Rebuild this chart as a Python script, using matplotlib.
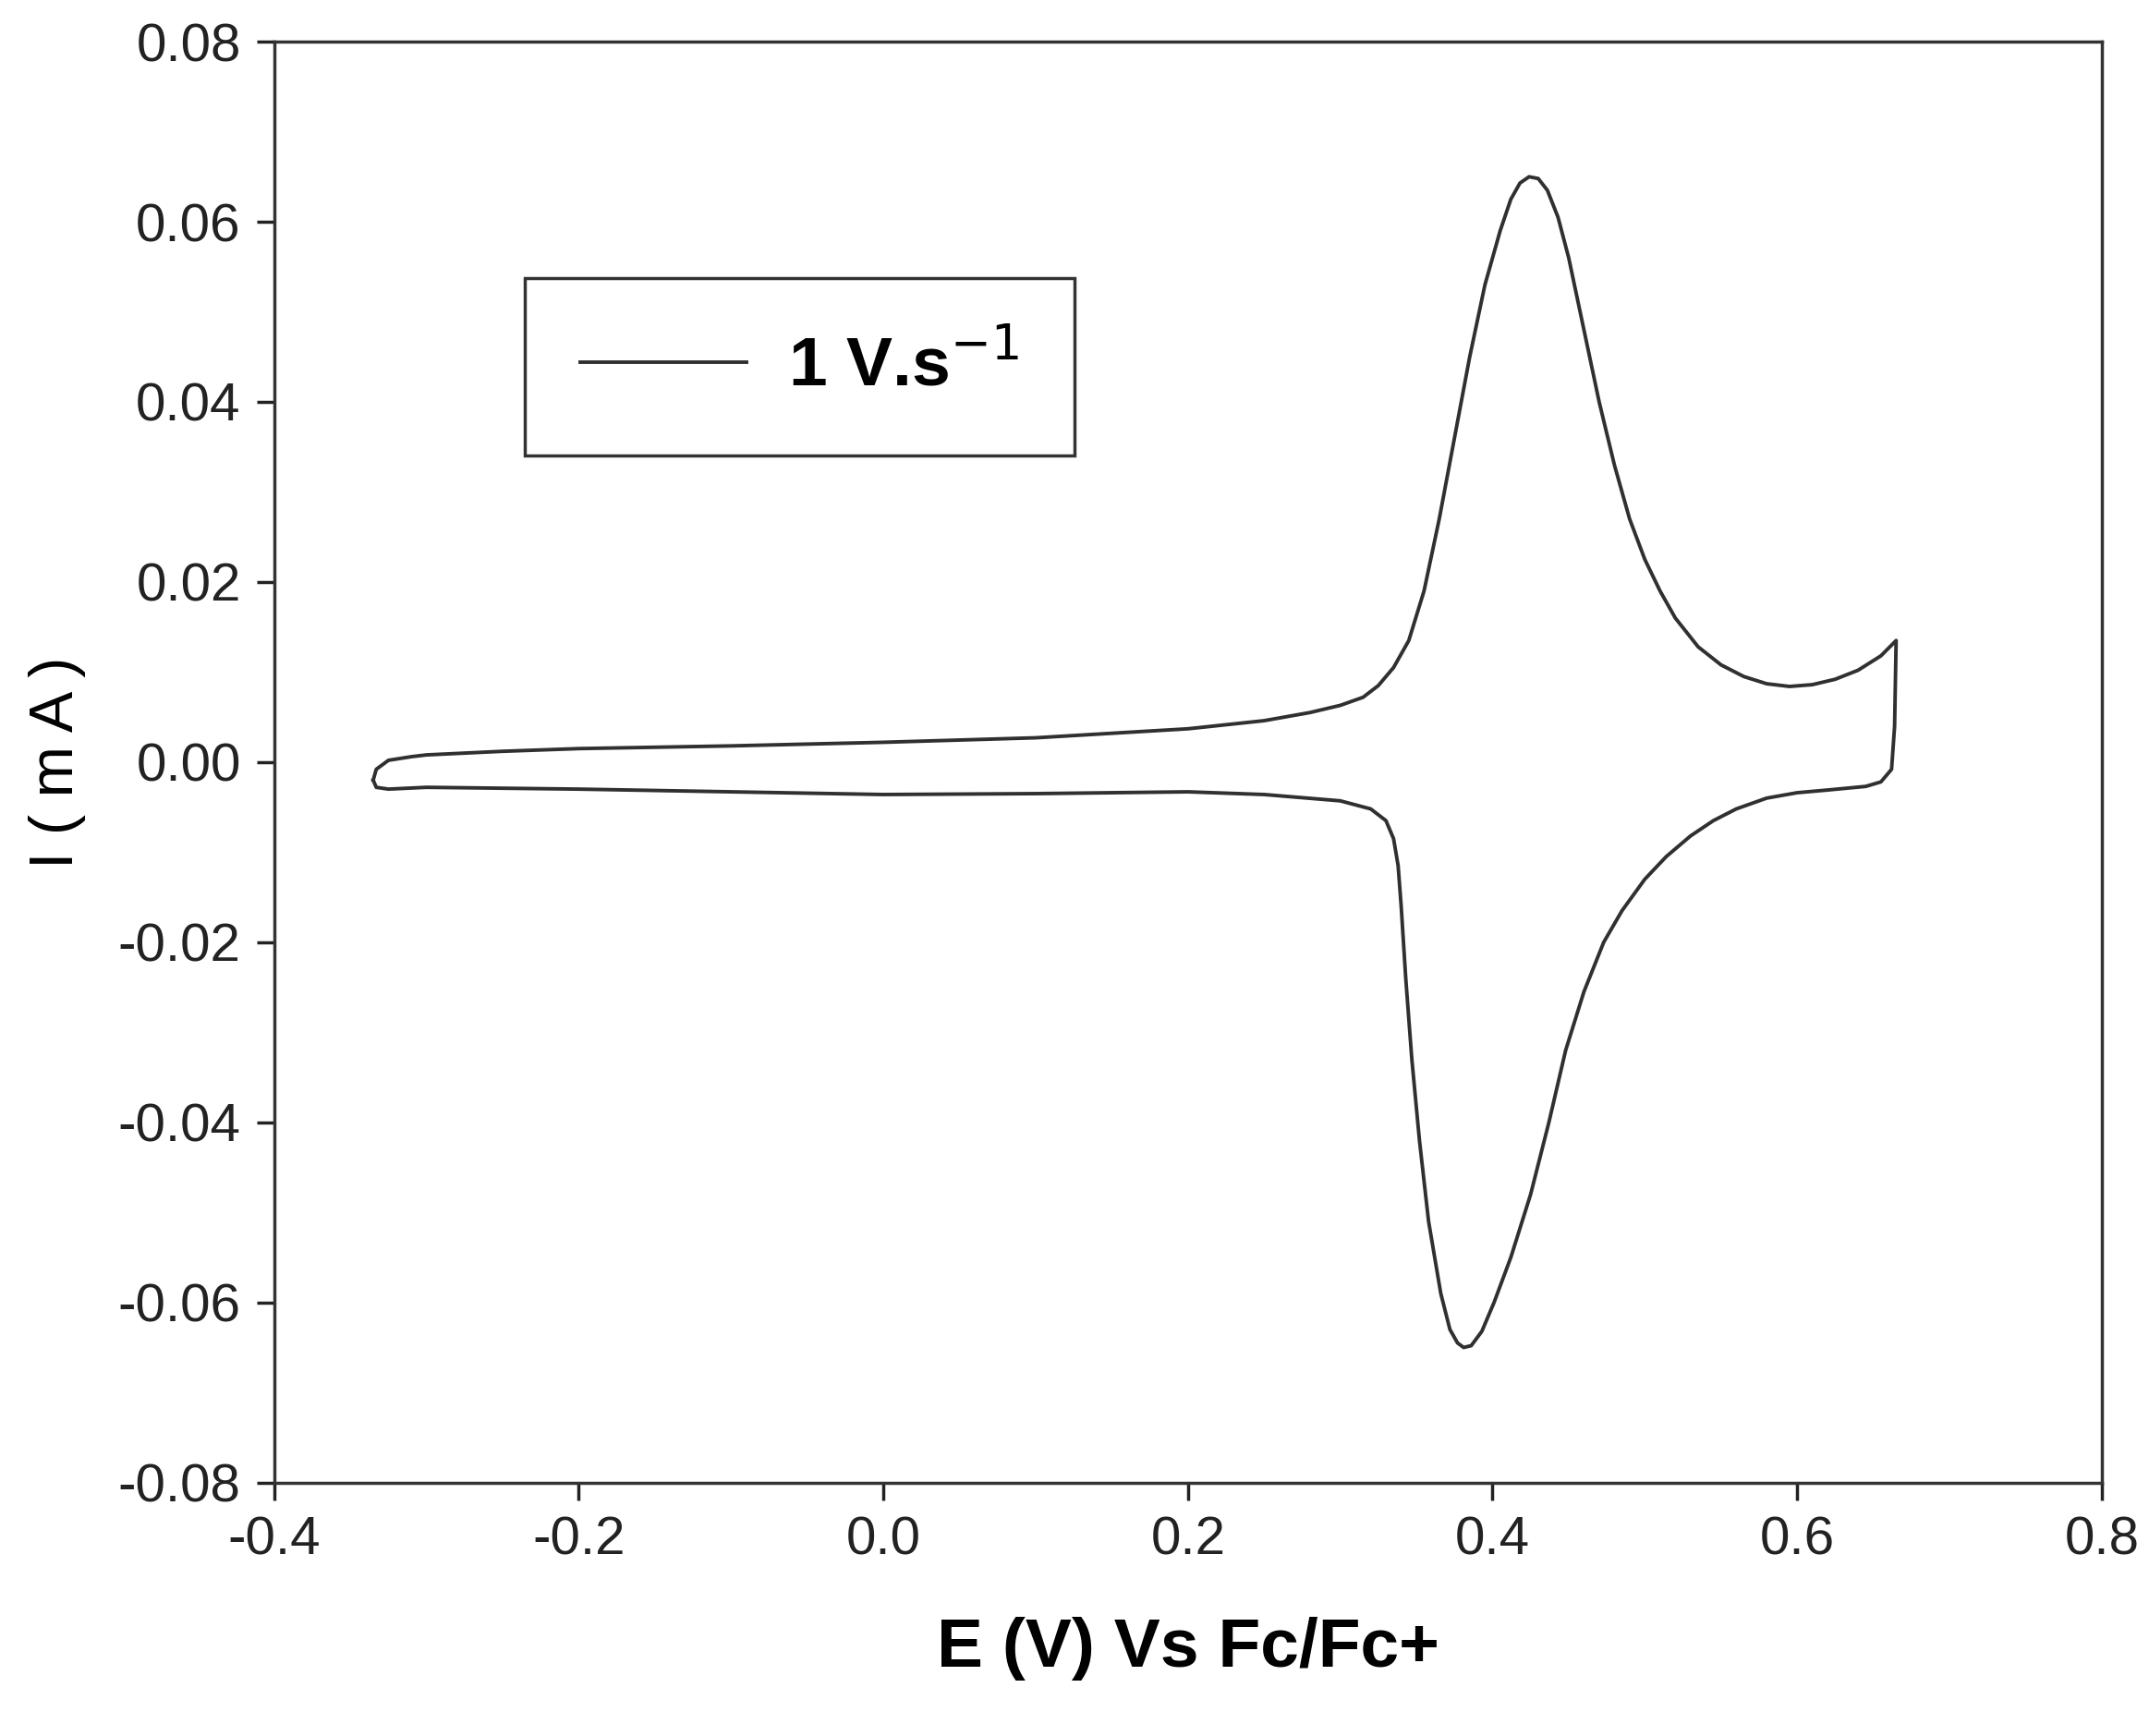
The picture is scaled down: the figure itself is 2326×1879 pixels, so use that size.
import matplotlib.pyplot as plt
import numpy as np

plt.rcParams['font.family'] = ['Liberation Sans', 'DejaVu Sans']

# forward (anodic) sweep
e_fwd = [-0.335, -0.333, -0.325, -0.31, -0.3, -0.25, -0.2, -0.1, 0.0, 0.1, 0.2, 0.25, 0.28,
         0.30, 0.315, 0.325, 0.335, 0.345, 0.355, 0.365, 0.375, 0.385, 0.395, 0.405, 0.412,
         0.418, 0.424, 0.43, 0.436, 0.443, 0.45, 0.46, 0.47, 0.48, 0.49, 0.50, 0.51, 0.52,
         0.535, 0.55, 0.565, 0.58, 0.595, 0.61, 0.625, 0.64, 0.655, 0.665]
i_fwd = [-0.002, -0.0008, 0.0002, 0.0006, 0.0008, 0.0012, 0.0015, 0.0018, 0.0022, 0.0027,
         0.0037, 0.0046, 0.0055, 0.0063, 0.0072, 0.0085, 0.0105, 0.0135, 0.019, 0.027, 0.036,
         0.045, 0.053, 0.059, 0.0625, 0.0643, 0.065, 0.0648, 0.0635, 0.0605, 0.056, 0.048,
         0.040, 0.033, 0.027, 0.0225, 0.019, 0.016, 0.0128, 0.0108, 0.0095, 0.0087, 0.0084,
         0.0086, 0.0092, 0.0102, 0.0118, 0.0135]
# reverse (cathodic) sweep
e_rev = [0.665, 0.664, 0.662, 0.655, 0.645, 0.62, 0.60, 0.58, 0.56, 0.545, 0.53, 0.514, 0.50,
         0.485, 0.473, 0.46, 0.448, 0.437, 0.425, 0.412, 0.401, 0.393, 0.386, 0.381, 0.377,
         0.372, 0.366, 0.358, 0.352, 0.347, 0.343, 0.34, 0.338, 0.335, 0.33, 0.32, 0.30,
         0.25, 0.2, 0.1, 0.0, -0.1, -0.2, -0.3, -0.325, -0.333, -0.335]
i_rev = [0.0135, 0.004, -0.0008, -0.0022, -0.0027, -0.0031, -0.0034, -0.0040, -0.0052,
         -0.0065, -0.0082, -0.0105, -0.013, -0.0165, -0.020, -0.0255, -0.032, -0.040, -0.048,
         -0.055, -0.060, -0.0632, -0.0648, -0.065, -0.0645, -0.063, -0.059, -0.051, -0.042,
         -0.033, -0.024, -0.016, -0.0115, -0.0085, -0.0065, -0.0052, -0.0043, -0.0036,
         -0.0033, -0.0035, -0.0036, -0.0033, -0.003, -0.0028, -0.003, -0.0028, -0.002]

fig = plt.figure(figsize=(23.26, 18.79), dpi=100)
ax = fig.add_axes([0.1276, 0.146, 0.8504, 0.830])
ax.plot(e_fwd + e_rev, i_fwd + i_rev, color='#303030', lw=2.8, label='1 V.s$^{-1}$')

ax.set_xlim(-0.4, 0.8)
ax.set_ylim(-0.08, 0.08)
ax.set_xticks(np.arange(-0.4, 0.81, 0.2))
ax.set_yticks(np.arange(-0.08, 0.081, 0.02))
ax.set_xticklabels(['%.1f' % v for v in np.arange(-0.4, 0.81, 0.2)])
ax.set_yticklabels(['%.2f' % v for v in np.arange(-0.08, 0.081, 0.02)])
ax.tick_params(direction='out', length=14, width=2.5, labelsize=42, colors='#222222', pad=12)
for s in ax.spines.values():
    s.set_linewidth(2.5)
    s.set_color('#333333')

ax.set_xlabel('E (V) Vs Fc/Fc+', fontsize=54, fontweight='bold', labelpad=40)
ax.set_ylabel('I ( m A )', fontsize=48, labelpad=25)

leg = ax.legend(loc='upper left', bbox_to_anchor=(0.118, 0.86),
                prop={'weight': 'bold', 'size': 54}, fancybox=False, handlelength=2.4,
                borderpad=0.8, handletextpad=0.6)
leg.get_frame().set_edgecolor('#333333')
leg.get_frame().set_linewidth(2.5)
leg.get_frame().set_alpha(1)

fig.savefig('out.png', dpi=100)
